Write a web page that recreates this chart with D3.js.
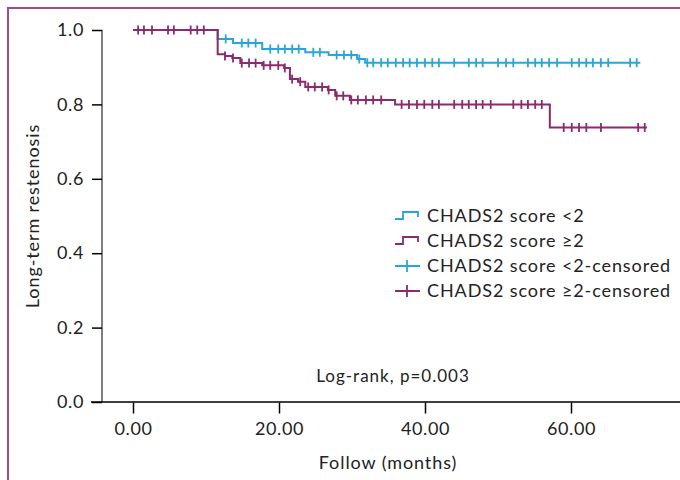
<!DOCTYPE html>
<html>
<head>
<meta charset="utf-8">
<script src="https://cdn.jsdelivr.net/npm/d3@7"></script>
<style>
  body { margin: 0; background: #fff; }
  svg { font-family: Lato, "Open Sans", sans-serif; }
</style>
</head>
<body>
<div id="chart"></div>
<script>
// step points: [months, survival]
var lowSteps = [[0, 1.0], [11.6, 0.976], [13.7, 0.965], [17.7, 0.949], [23.6, 0.940],
  [26.8, 0.933], [30.7, 0.922], [31.8, 0.912], [69.5, 0.912]];
var highSteps = [[0, 1.0], [11.6, 0.935], [12.6, 0.930], [13.6, 0.925], [14.7, 0.911],
  [17.7, 0.905], [20.7, 0.898], [21.5, 0.868], [22.6, 0.861], [23.6, 0.847],
  [26.7, 0.839], [27.7, 0.823], [29.7, 0.812], [35.9, 0.800], [57.1, 0.738], [70.4, 0.738]];

// censored times (months)
var lowCensored = [12.7, 14.9, 15.8, 16.8, 18.8, 19.9, 20.8, 21.8, 22.7, 24.7, 25.6, 27.9,
  28.9, 29.9, 31.0, 32.1, 32.9, 34.0, 34.9, 36.0, 37.0, 37.9, 38.9, 40.0, 41.0, 41.9, 44.0,
  46.0, 47.0, 47.9, 50.0, 51.1, 52.1, 54.1, 55.1, 56.0, 57.0, 58.1, 60.1, 61.1, 62.1, 63.0,
  64.1, 65.1, 68.1, 69.0];
var highCensored = [0.7, 1.5, 2.6, 4.8, 5.6, 7.9, 8.8, 9.7, 12.6, 13.7, 14.9, 15.9, 16.8,
  17.9, 18.8, 19.9, 20.8, 21.8, 22.9, 24.0, 24.9, 25.9, 26.8, 27.9, 28.8, 29.9, 30.8, 31.9,
  32.9, 34.0, 36.8, 37.8, 38.9, 39.9, 41.0, 41.9, 44.0, 45.1, 46.0, 47.0, 47.9, 49.0, 52.1,
  53.2, 54.1, 55.1, 56.0, 59.0, 60.1, 61.1, 62.1, 64.1, 69.2, 70.1];

var xTicks = [0, 20, 40, 60];
var yTicks = [0, 0.2, 0.4, 0.6, 0.8, 1.0];
var legendLabels = ['CHADS2 score <2', 'CHADS2 score \u22652',
  'CHADS2 score <2-censored', 'CHADS2 score \u22652-censored'];

var blue = '#29a6d8';
var purple = '#8b2a6c';

var width = 680, height = 480;
var svg = d3.select('#chart').append('svg')
  .attr('width', width)
  .attr('height', height);

// frame (top and left only)
svg.append('path')
  .attr('d', 'M8,480 V8 H680')
  .attr('fill', 'none')
  .attr('stroke', '#a24a86')
  .attr('stroke-width', 2);

var x = d3.scaleLinear().domain([0, 20]).range([133, 279]);
var y = d3.scaleLinear().domain([0, 1]).range([402, 30]);

// y axis
var yAxis = svg.append('g')
  .attr('transform', 'translate(102,0)')
  .call(d3.axisLeft(y).tickValues(yTicks).tickFormat(d3.format('.1f')).tickSize(10).tickPadding(8));
yAxis.select('.domain').attr('d', 'M0,' + y(1) + 'V' + y(0));

// x axis line
svg.append('line')
  .attr('x1', 91).attr('x2', 680)
  .attr('y1', y(0)).attr('y2', y(0))
  .attr('stroke', '#000').attr('stroke-width', 1.5);

var xAxis = svg.append('g')
  .attr('transform', 'translate(0,' + (y(0) + 0.5) + ')')
  .call(d3.axisBottom(x).tickValues(xTicks).tickFormat(d3.format('.2f')).tickSize(11).tickPadding(9));
xAxis.select('.domain').remove();

svg.selectAll('.tick line').attr('stroke-width', 1.5);
svg.selectAll('.tick text')
  .attr('font-family', 'Lato, "Open Sans", sans-serif')
  .attr('font-size', 18)
  .attr('letter-spacing', 0.6)
  .attr('fill', '#222');

// axis titles
svg.append('text')
  .attr('transform', 'translate(39,216) rotate(-90)')
  .attr('text-anchor', 'middle')
  .attr('font-size', 18)
  .attr('letter-spacing', 0.9)
  .attr('fill', '#222')
  .text('Long-term restenosis');

svg.append('text')
  .attr('x', 388).attr('y', 469)
  .attr('text-anchor', 'middle')
  .attr('font-size', 18)
  .attr('letter-spacing', 0.9)
  .attr('fill', '#222')
  .text('Follow (months)');

// survival curves
var line = d3.line()
  .x(function (d) { return x(d[0]); })
  .y(function (d) { return y(d[1]); })
  .curve(d3.curveStepAfter);

// value of a step curve at time t
function valueAt(steps, t) {
  var v = steps[0][1];
  steps.forEach(function (s) { if (s[0] <= t) v = s[1]; });
  return v;
}

function drawGroup(steps, censored, color) {
  svg.append('path')
    .datum(steps)
    .attr('d', line)
    .attr('fill', 'none')
    .attr('stroke', color)
    .attr('stroke-width', 2);

  svg.append('g').selectAll('line')
    .data(censored)
    .enter()
    .append('line')
    .attr('x1', function (d) { return x(d); })
    .attr('x2', function (d) { return x(d); })
    .attr('y1', function (d) { return y(valueAt(steps, d)) - 4.5; })
    .attr('y2', function (d) { return y(valueAt(steps, d)) + 4.5; })
    .attr('stroke', color)
    .attr('stroke-width', 1.8);
}

drawGroup(lowSteps, lowCensored, blue);
drawGroup(highSteps, highCensored, purple);

// legend
var legend = svg.append('g');
var rowY = [216, 241, 266, 291];
var legendColors = [blue, purple, blue, purple];
legendLabels.forEach(function (label, i) {
  var cy = rowY[i];
  var c = legendColors[i];
  if (i < 2) {
    legend.append('path')
      .attr('d', 'M395,' + (cy + 3) + 'H403V' + (cy - 4) + 'H418V' + (cy + 1))
      .attr('fill', 'none').attr('stroke', c).attr('stroke-width', 1.8);
  } else {
    legend.append('path')
      .attr('d', 'M395,' + cy + 'H420M407,' + (cy - 6) + 'V' + (cy + 6))
      .attr('fill', 'none').attr('stroke', c).attr('stroke-width', 1.8);
  }
  legend.append('text')
    .attr('x', 427).attr('y', cy + 6)
    .attr('font-size', 18)
    .attr('letter-spacing', 0.9)
    .attr('fill', '#222')
    .text(label);
});

svg.append('text')
  .attr('x', 393).attr('y', 382)
  .attr('text-anchor', 'middle')
  .attr('font-size', 17)
  .attr('letter-spacing', 1)
  .attr('fill', '#222')
  .text('Log-rank, p=0.003');
</script>
</body>
</html>
